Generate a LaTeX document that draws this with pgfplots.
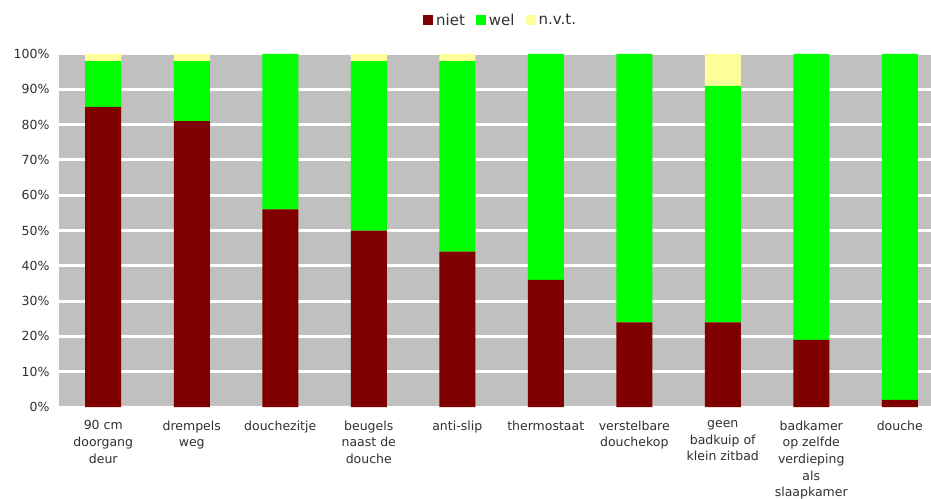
\documentclass[border=0pt]{standalone}
\usepackage{fontspec}
\setmainfont{DejaVu Sans}
\usepackage{pgfplots}
\pgfplotsset{compat=1.18}
\usepackage{pgfplotstable}

\definecolor{niet}{HTML}{800000}
\definecolor{wel}{HTML}{00FF00}
\definecolor{nvt}{HTML}{FFFF99}
\definecolor{plotgrey}{HTML}{C0C0C0}
\definecolor{labelgrey}{HTML}{303030}

% percentages per voorziening: niet / wel / n.v.t.
\pgfplotstableread{
x niet wel nvt
0 85 13 2
1 81 17 2
2 56 44 0
3 50 48 2
4 44 54 2
5 36 64 0
6 24 76 0
7 24 67 9
8 19 81 0
9  2 98 0
}\datatable

\begin{document}
\begin{tikzpicture}
\useasboundingbox (-59bp,-92bp) rectangle (872bp,407bp);
\begin{axis}[
  at={(0,0)}, anchor=south west,
  scale only axis, width=872bp, height=353bp,
  ybar stacked, bar width=36bp,
  xmin=-0.5, xmax=9.353, ymin=0, ymax=100,
  axis line style={draw=none},
  major tick length=0pt,
  axis background/.style={fill=plotgrey},
  ymajorgrids, grid style={white, line width=3bp},
  ytick={0,10,...,100},
  yticklabels={0\%,10\%,20\%,30\%,40\%,50\%,60\%,70\%,80\%,90\%,100\%},
  xtick={0,...,9},
  xticklabels={{90 cm\\doorgang\\deur},{drempels\\weg},douchezitje,{beugels\\naast de\\douche},anti-slip,thermostaat,{verstelbare\\douchekop},{geen\\badkuip of\\klein zitbad},{badkamer\\op zelfde\\verdieping\\als\\slaapkamer},douche},
  tick label style={text=labelgrey, font=\fontsize{12.5bp}{16.7bp}\selectfont},
  xticklabel style={align=center, anchor=north, yshift=-10bp},
  yticklabel style={anchor=east, xshift=-6bp},
  legend columns=-1,
  legend style={draw=none, fill=none, at={(0.507,1.096)}, anchor=center,
    font=\fontsize{15bp}{17bp}\selectfont, text=labelgrey,
    nodes={inner xsep=3bp},
    /tikz/every even column/.append style={column sep=8bp}},
  every axis plot post/.append style={
    legend image code/.code={\fill[##1] (0bp,-5bp) rectangle (10bp,5bp);}},
]
\addplot[fill=niet, draw=none] table[x=x, y=niet] {\datatable};
\addplot[fill=wel, draw=none] table[x=x, y=wel] {\datatable};
\addplot[fill=nvt, draw=none] table[x=x, y=nvt] {\datatable};
\legend{niet, wel, n.v.t.}
\end{axis}
\end{tikzpicture}
\end{document}
